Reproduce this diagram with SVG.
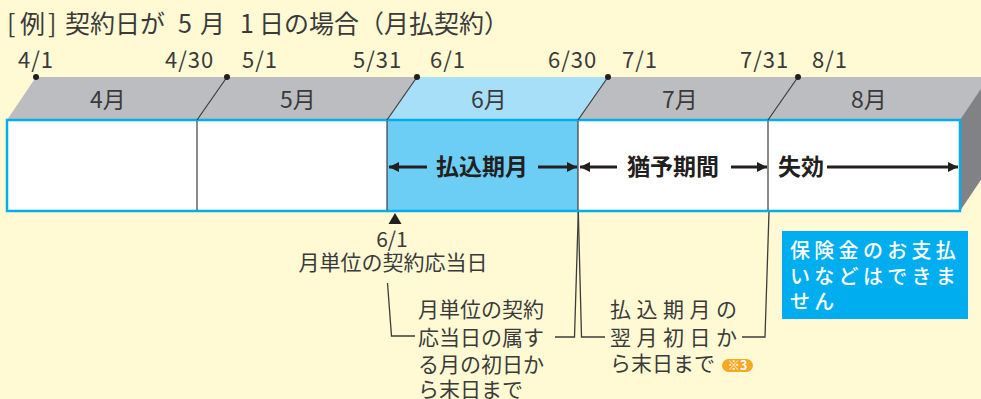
<svg xmlns="http://www.w3.org/2000/svg" width="981" height="399" viewBox="0 0 981 399">
<defs>
<style>
text{font-family:"Noto Sans CJK JP","Noto Sans",sans-serif;fill:#3a3a3a}
.title{font-size:25px}
.date{font-size:22px;letter-spacing:1px}
.mon{font-size:23px;text-anchor:middle}
.bold{font-size:23px;font-weight:700;fill:#231f20}
.note{font-size:21px}
.white{font-size:20px;fill:#ffffff;font-weight:500;letter-spacing:4.3px}
.arr{stroke:#231f20;stroke-width:3;fill:none;marker-end:url(#ah)}
.div{stroke:#3c3c3c;stroke-width:1.2;fill:none}
.con{stroke:#3c3c3c;stroke-width:1.3;fill:none}
</style>
<marker id="ah" markerUnits="userSpaceOnUse" markerWidth="12" markerHeight="12" refX="10" refY="5" orient="auto">
<path d="M0,0 L10,5 L0,10 z" fill="#231f20"/>
</marker>
</defs>
<rect width="981" height="399" fill="#fffad4"/>
<text class="title" y="33"><tspan x="7">[</tspan><tspan x="20">例</tspan><tspan x="48">]</tspan><tspan x="65">契約日が</tspan><tspan x="178">5</tspan><tspan x="200">月</tspan><tspan x="240">1</tspan><tspan x="259">日の場合（月払契約）</tspan></text>
<g id="timeline">
<polygon points="36,77 991,77 962,120 7,120" fill="#bcbdc0"/>
<polygon points="417,77 608,77 578,120 387,120" fill="#a8dff8"/>
<polygon points="960,120 991,74 991,165 960,211" fill="#808285"/>
<rect x="7" y="120" width="953" height="91" fill="#ffffff"/>
<rect x="387" y="120" width="191" height="91" fill="#6dcef5"/>
<rect x="7" y="120" width="953" height="91" fill="none" stroke="#00aeef" stroke-width="2.5"/>
</g>
<g id="dividers">
<line class="div" x1="227" y1="77" x2="197" y2="120"/>
<line class="div" x1="417" y1="77" x2="387" y2="120"/>
<line class="div" x1="608" y1="77" x2="578" y2="120"/>
<line class="div" x1="798" y1="77" x2="768" y2="120"/>
<line class="div" x1="197" y1="121" x2="197" y2="210"/>
<line class="div" x1="387" y1="121" x2="387" y2="210"/>
<line class="div" x1="578" y1="121" x2="578" y2="210"/>
<line class="div" x1="768" y1="121" x2="768" y2="210"/>
<g fill="#231f20"><circle cx="36" cy="77" r="3"/><circle cx="227" cy="77" r="3"/><circle cx="417" cy="77" r="3"/><circle cx="608" cy="77" r="3"/><circle cx="798" cy="77" r="3"/></g>
</g>
<g id="dates">
<text class="date" y="68" x="18">4/1</text>
<text class="date" y="68" x="165">4/30</text>
<text class="date" y="68" x="242">5/1</text>
<text class="date" y="68" x="353">5/31</text>
<text class="date" y="68" x="430">6/1</text>
<text class="date" y="68" x="548">6/30</text>
<text class="date" y="68" x="622">7/1</text>
<text class="date" y="68" x="740">7/31</text>
<text class="date" y="68" x="812">8/1</text>
</g>
<g id="months">
<text class="mon" x="108" y="108">4月</text>
<text class="mon" x="298" y="108">5月</text>
<text class="mon" x="489" y="108">6月</text>
<text class="mon" x="680" y="108">7月</text>
<text class="mon" x="869" y="108">8月</text>
</g>
<g id="periods">
<text class="bold" x="436" y="175">払込期月</text>
<text class="bold" x="627" y="175">猶予期間</text>
<text class="bold" x="778" y="175">失効</text>
</g>
<g id="connectors">
<line class="arr" x1="427" y1="167" x2="389" y2="167"/>
<line class="arr" x1="538" y1="167" x2="577" y2="167"/>
<line class="arr" x1="617" y1="167" x2="580" y2="167"/>
<line class="arr" x1="731" y1="167" x2="767" y2="167"/>
<line class="arr" x1="827" y1="167" x2="958" y2="167"/>
<polyline class="con" points="387.5,283 391.5,336 415,336"/>
<polyline class="con" points="555,337 574.5,337 578.3,212"/>
<polyline class="con" points="605,337 581.5,337 578.3,212"/>
<polyline class="con" points="769,212 765,337 742,337"/>
</g>
<g id="contract-day">
<polygon points="395,213 401.5,224 388.5,224" fill="#231f20"/>
<text class="note" x="392" y="247" text-anchor="middle">6/1</text>
<text class="note" x="393" y="270" text-anchor="middle">月単位の契約応当日</text>
</g>
<g id="note-payment">
<text class="note" x="418" y="317">月単位の契約</text>
<text class="note" x="418" y="345">応当日の属す</text>
<text class="note" x="418" y="372">る月の初日か</text>
<text class="note" x="418" y="397">ら末日まで</text>
</g>
<g id="note-grace">
<text class="note" x="610" y="317" letter-spacing="5.5">払込期月の</text>
<text class="note" x="610" y="345" letter-spacing="5.5">翌月初日か</text>
<text class="note" x="610" y="371">ら末日まで</text>
<rect x="722" y="359" width="31" height="13" rx="6.5" fill="#f7a823"/>
<text x="737.5" y="370" text-anchor="middle" style="font-size:12.5px;font-weight:700;fill:#ffffff">※3</text>
</g>
<g id="lapse-note">
<rect x="782" y="231" width="186" height="88" fill="#00aeef"/>
<text class="white" x="790" y="258">保険金のお支払</text>
<text class="white" x="790" y="283.5">いなどはできま</text>
<text class="white" x="790" y="309">せん</text>
</g>
</svg>
